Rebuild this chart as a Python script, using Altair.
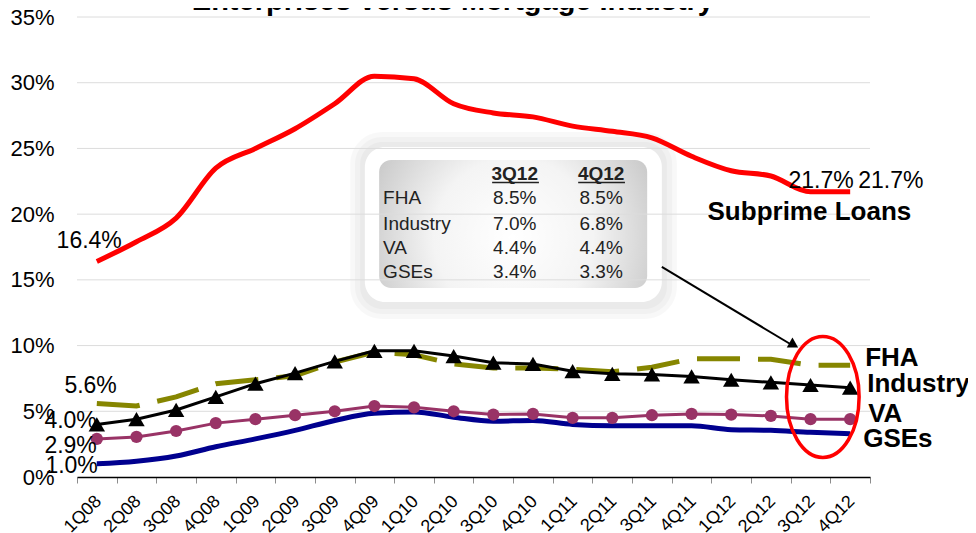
import altair as alt
import pandas as pd

# ---------------- data ----------------
quarters = ["1Q08", "2Q08", "3Q08", "4Q08", "1Q09", "2Q09", "3Q09", "4Q09",
            "1Q10", "2Q10", "3Q10", "4Q10", "1Q11", "2Q11", "3Q11", "4Q11",
            "1Q12", "2Q12", "3Q12", "4Q12"]
subprime = [16.4, 17.9, 19.7, 23.5, 25.0, 26.5, 28.4, 30.5, 30.3, 28.4,
            27.7, 27.4, 26.7, 26.3, 25.8, 24.4, 23.3, 22.9, 21.7, 21.7]
fha = [5.6, 5.4, 6.1, 7.1, 7.4, 7.7, 8.75, 9.5, 9.3, 8.6,
       8.3, 8.3, 8.2, 8.0, 8.35, 9.0, 9.0, 8.95, 8.5, 8.5]
industry = [4.0, 4.4, 5.1, 6.1, 7.1, 7.9, 8.8, 9.6, 9.6, 9.2,
            8.7, 8.6, 8.05, 7.85, 7.8, 7.65, 7.4, 7.2, 7.0, 6.8]
va = [2.9, 3.05, 3.5, 4.1, 4.4, 4.7, 5.0, 5.4, 5.3, 5.0,
      4.75, 4.8, 4.5, 4.5, 4.7, 4.8, 4.75, 4.65, 4.4, 4.4]
gses = [1.0, 1.2, 1.6, 2.3, 2.9, 3.55, 4.3, 4.85, 4.95, 4.55,
        4.25, 4.3, 4.0, 3.9, 3.9, 3.9, 3.6, 3.55, 3.4, 3.3]

title_text = "Enterprises versus Mortgage Industry"
y_ticks = [0, 5, 10, 15, 20, 25, 30, 35]

table_rows = ["FHA", "Industry", "VA", "GSEs"]
table_cols = ["3Q12", "4Q12"]
table_3q12 = ["8.5%", "7.0%", "4.4%", "3.4%"]
table_4q12 = ["8.5%", "6.8%", "4.4%", "3.3%"]

# annotation geometry in data units (x: quarter index 0..20, y: percent)
halo_boxes = [[7.14, 14.88, 25.49, 12.78],
              [7.01, 15.01, 25.87, 12.40],
              [6.89, 15.13, 26.25, 12.02]]
outer_box = [7.26, 14.75, 25.11, 13.32]
inner_box = [7.62, 14.38, 24.12, 14.38]
table_row_x = 7.72
table_col_x = [11.04, 13.22]
table_header_y = 22.60
table_row_y = [20.77, 18.79, 16.97, 15.12]
underline_x = [[10.47, 11.65], [12.64, 13.82]]
underline_y = 22.41
arrow_from = [14.75, 15.98]
arrow_to = [18.0, 10.1]
arrow_head = [18.08, 10.05]
ellipse_at = [18.81, 6.09]
title_at = [9.48, 35.53]

FONT = "Liberation Sans"
W, H = 793, 460

# ---------------- scales / axes ----------------
yscale = alt.Scale(domain=[0, 35], nice=False, zero=False)
yaxis = alt.Axis(values=y_ticks, labelExpr="datum.value + '%'", labelFontSize=22,
                 labelFont=FONT, labelColor="black", domain=False, ticks=False,
                 grid=False, labelPadding=23, title=None)
xscale = alt.Scale(type="band", domain=quarters, paddingInner=0, paddingOuter=0)
xaxis = alt.Axis(labelAngle=-45, labelFontSize=18, labelFont=FONT, labelColor="black",
                 tickBand="extent", tickSize=6, tickColor="#8c8c8c", domainColor="black",
                 domainWidth=1.5, grid=False, title=None, labelPadding=9, labelOffset=-5)

X = alt.X("q:O", scale=xscale, axis=xaxis, sort=quarters, title=None)
Y = alt.Y("v:Q", scale=yscale, axis=yaxis, title=None)

ascale = alt.Scale(domain=[0, 20], nice=False, zero=False)
AX = alt.X("p:Q", scale=ascale, axis=None, title=None)


def series_df(vals):
    return pd.DataFrame({"q": quarters, "v": vals})


def one(q, v, t):
    return pd.DataFrame({"q": [q], "v": [v], "t": [t]})


# ---------------- main (band x) layers ----------------
gse_line = alt.Chart(series_df(gses)).mark_line(
    color="#00008f", strokeWidth=5, interpolate="monotone").encode(x=X, y=Y)
va_line = alt.Chart(series_df(va)).mark_line(
    color="#993366", strokeWidth=3).encode(x=X, y=Y)
va_pts = alt.Chart(series_df(va)).mark_point(
    shape="circle", filled=True, size=150, color="#993366", opacity=1).encode(x=X, y=Y)
fha_line = alt.Chart(series_df(fha)).mark_line(
    color="#868600", strokeWidth=5, strokeDash=[43, 18]).encode(x=X, y=Y)
ind_line = alt.Chart(series_df(industry)).mark_line(
    color="black", strokeWidth=3).encode(x=X, y=Y)
ind_pts = alt.Chart(series_df(industry)).mark_point(
    shape="triangle-up", filled=True, size=270, color="black", opacity=1).encode(x=X, y=Y)
sub_line = alt.Chart(series_df(subprime)).mark_line(
    color="#ff0000", strokeWidth=5, interpolate="monotone").encode(x=X, y=Y)


def label(df, align, dx, dy, size=23, bold=False):
    return alt.Chart(df).mark_text(
        align=align, baseline="alphabetic", dx=dx, dy=dy, fontSize=size, font=FONT,
        fontWeight="bold" if bold else "normal", color="black"
    ).encode(x=X, y=Y, text="t:N")


pct = lambda v: f"{v:.1f}%"
labels = [
    label(one(quarters[0], subprime[0], pct(subprime[0])), "right", 25, -13.5),
    label(one(quarters[0], fha[0], pct(fha[0])), "right", 20, -10.5),
    label(one(quarters[0], industry[0], pct(industry[0])), "right", 0, 3.5),
    label(one(quarters[0], va[0], pct(va[0])), "right", 0, 14),
    label(one(quarters[0], gses[0], pct(gses[0])), "right", 1, 9),
    label(one(quarters[-2], subprime[-2], pct(subprime[-2])), "left", -22, -4),
    label(one(quarters[-1], subprime[-1], pct(subprime[-1])), "left", 8, -4),
    label(one(quarters[-2], subprime[-2], "Subprime Loans"), "left", -103, 28, 26, True),
    label(one(quarters[-1], fha[-1], "FHA"), "left", 15, 1, 26, True),
    label(one(quarters[-1], industry[-1], "Industry"), "left", 17, 4, 26, True),
    label(one(quarters[-1], va[-1], "VA"), "left", 18, 3, 26, True),
    label(one(quarters[-1], gses[-1], "GSEs"), "left", 13, 13, 26, True),
]

main = alt.layer(gse_line, va_line, va_pts, fha_line, ind_line, ind_pts, sub_line, *labels)

# ---------------- annotation layers (quantitative x) ----------------
def box(b):
    return pd.DataFrame({"p": [b[0]], "p2": [b[1]], "v": [b[2]], "v2": [b[3]]})


halos = [
    alt.Chart(box(b)).mark_rect(fill="black", opacity=0.028, cornerRadius=22 + 5 * i).encode(
        x=AX, x2="p2", y=Y, y2="v2")
    for i, b in enumerate(halo_boxes)
]
outer = alt.Chart(box(outer_box)).mark_rect(
    fill="white", cornerRadius=20).encode(x=AX, x2="p2", y=Y, y2="v2")
grad = alt.RadialGradient(
    gradient="radial", x1=0.5, y1=0.55, r1=0, x2=0.5, y2=0.55, r2=0.66,
    stops=[alt.GradientStop(offset=0, color="#ffffff"),
           alt.GradientStop(offset=0.45, color="#f4f4f4"),
           alt.GradientStop(offset=1, color="#bcbcbc")])
inner = alt.Chart(box(inner_box)).mark_rect(
    fill=grad, cornerRadius=12).encode(x=AX, x2="p2", y=Y, y2="v2")
grid = alt.Chart(pd.DataFrame({"v": y_ticks[1:]})).mark_rule(
    color="#dcdcdc", strokeWidth=1).encode(y=Y)

back = alt.layer(*halos, outer, inner, grid)

hdr = alt.Chart(pd.DataFrame({"p": table_col_x, "v": [table_header_y] * 2, "t": table_cols})).mark_text(
    align="center", baseline="alphabetic", fontSize=19, font=FONT, fontWeight="bold",
    color="#222222").encode(x=AX, y=Y, text="t:N")
uline = alt.Chart(pd.DataFrame({"p": [u[0] for u in underline_x], "p2": [u[1] for u in underline_x],
                                "v": [underline_y] * 2})).mark_rule(
    color="#222222", strokeWidth=1.5).encode(x=AX, x2="p2", y=Y)
rowlab = alt.Chart(pd.DataFrame({"p": [table_row_x] * 4, "v": table_row_y, "t": table_rows})).mark_text(
    align="left", baseline="alphabetic", fontSize=19, font=FONT, color="#222222").encode(
    x=AX, y=Y, text="t:N")
col1 = alt.Chart(pd.DataFrame({"p": [table_col_x[0]] * 4, "v": table_row_y, "t": table_3q12})).mark_text(
    align="center", baseline="alphabetic", fontSize=19, font=FONT, color="#222222").encode(
    x=AX, y=Y, text="t:N")
col2 = alt.Chart(pd.DataFrame({"p": [table_col_x[1]] * 4, "v": table_row_y, "t": table_4q12})).mark_text(
    align="center", baseline="alphabetic", fontSize=19, font=FONT, color="#222222").encode(
    x=AX, y=Y, text="t:N")

arrow = alt.Chart(pd.DataFrame({"p": [arrow_from[0]], "p2": [arrow_to[0]],
                                "v": [arrow_from[1]], "v2": [arrow_to[1]]})).mark_rule(
    color="black", strokeWidth=2).encode(x=AX, x2="p2", y=Y, y2="v2")
head = alt.Chart(pd.DataFrame({"p": [arrow_head[0]], "v": [arrow_head[1]]})).mark_point(
    shape="triangle-right", angle=30, size=130, filled=True, color="black", opacity=1).encode(x=AX, y=Y)

ellipse_path = ("M 0 -1 C 0.331 -1 0.6 -0.552 0.6 0 C 0.6 0.552 0.331 1 0 1 "
                "C -0.331 1 -0.6 0.552 -0.6 0 C -0.6 -0.552 -0.331 -1 0 -1 Z")
ellipse = alt.Chart(pd.DataFrame({"p": [ellipse_at[0]], "v": [ellipse_at[1]]})).mark_point(
    shape=ellipse_path, size=14641, filled=False, stroke="#ff0000", strokeWidth=3.5,
    opacity=1).encode(x=AX, y=Y)

title = alt.Chart(pd.DataFrame({"p": [title_at[0]], "v": [title_at[1]], "t": [title_text]})).mark_text(
    align="center", baseline="alphabetic", fontSize=29, font=FONT, fontWeight="bold",
    color="black").encode(x=AX, y=Y, text="t:N")

front = alt.layer(hdr, uline, rowlab, col1, col2, arrow, head, ellipse, title)

chart = alt.layer(back, main, front).resolve_scale(x="independent").properties(
    width=W, height=H,
    padding={"left": 69, "top": 9, "right": 98, "bottom": 56},
    autosize=alt.AutoSizeParams(type="none"),
    background="white",
).configure_view(stroke=None)

chart.save("out.html", embed_options={"renderer": "svg", "actions": False})
